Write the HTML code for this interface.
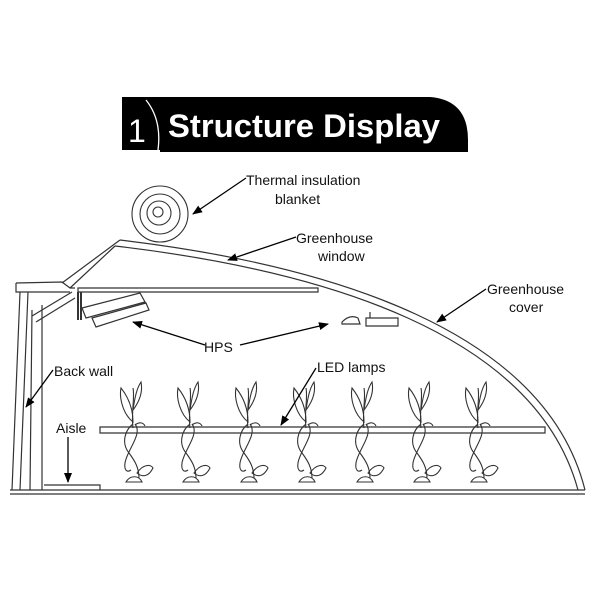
<!DOCTYPE html>
<html><head><meta charset="utf-8"><style>
body{margin:0;background:#fff}
svg{display:block}
text{font-family:"Liberation Sans",sans-serif}
</style></head><body>
<svg width="600" height="600" viewBox="0 0 600 600" xmlns="http://www.w3.org/2000/svg">
<defs>
<marker id="ar" markerWidth="10" markerHeight="8" refX="9" refY="4" orient="auto" markerUnits="userSpaceOnUse">
<path d="M0,0 L10,4 L0,8 Z" fill="#000"/></marker>
<g id="plant" fill="none" stroke="#333" stroke-width="1.1">
<path d="M0,0 C-2,-15 2,-30 0,-40"/>
<path d="M0,-6 C-10,-14 -14,-30 -12,-40 C-4,-30 0,-18 0,-6Z"/>
<path d="M0,-18 C2,-32 4,-40 8,-46 C10,-36 6,-26 0,-18Z"/>
<path d="M0,-4 C-8,2 -12,15 -4,25 C2,33 6,40 6,50"/>
<path d="M2,-4 C10,6 -6,22 -8,35 C-9,42 -6,45 -2,42"/>
<path d="M4,45 C10,36 18,36 20,40 C16,48 10,50 4,45Z"/>
<path d="M-7,54 C-3,47 6,47 9,54Z"/>
<path d="M2,-3 C6,-6 10,-6 12,-2" />
</g>
</defs>
<!-- title -->
<path d="M122,97 L430,97 Q468,100 468,140 L468,152 L160,152 L160,150 L122,150 Z" fill="#000"/>
<path d="M146,100 Q162,120 158,150" stroke="#fff" stroke-width="1.3" fill="none"/>
<text x="128" y="142" fill="#fff" font-size="32" font-family="Liberation Serif,serif">1</text>
<text x="168" y="137" fill="#fff" font-size="32" font-weight="bold" textLength="272" lengthAdjust="spacingAndGlyphs">Structure Display</text>
<!-- roll -->
<g fill="none" stroke="#333" stroke-width="1.1">
<circle cx="160" cy="214" r="28"/>
<circle cx="160" cy="214" r="20"/>
<circle cx="159" cy="213" r="12"/>
<circle cx="158" cy="212" r="5"/>
</g>
<!-- structure -->
<g fill="none" stroke="#333" stroke-width="1.2">
<path d="M120,240 C330,265 545,330 585,490"/>
<path d="M115,246 C320,270 535,332 578,490"/>
<path d="M62,283 L120,240 M70,288 L115,246"/>
<path d="M16,283 L62,282 L70,288 L75,288 M16,283 L16,292 L70,292"/>
<path d="M12,490 L20,292 M20,490 L28,292 M30,490 L32,310 M42,490 L42,305"/>
<path d="M32,316 L72,292 M36,322 L75,298"/>
<path d="M78,288 L318,288 L318,292 L78,292Z"/>
<path d="M78,292 L78,320 M81,292 L81,320" stroke-width="2"/>
<path d="M82,308 L140,293 L145,302 L86,318Z M92,318 L146,303 L149,310 L96,327Z"/>
<path d="M10,490 L585,490 M10,494 L585,494"/>
<path d="M44,485 L100,485 L100,490"/>
<path d="M100,427 L545,427 L545,433 L100,433 Z"/>
<path d="M342,322 Q350,314 358,318 L360,324 L342,324Z M366,318 L398,318 L398,326 L366,326Z M370,318 L370,312"/>
</g>
<g>
<use href="#plant" x="133" y="428"/>
<use href="#plant" x="190" y="428"/>
<use href="#plant" x="248" y="428"/>
<use href="#plant" x="306" y="428"/>
<use href="#plant" x="364" y="428"/>
<use href="#plant" x="421" y="428"/>
<use href="#plant" x="478" y="428"/>
</g>
<!-- arrows -->
<g stroke="#000" stroke-width="1.3" fill="none" marker-end="url(#ar)">
<path d="M246,178 L193,214"/>
<path d="M296,237 L228,260"/>
<path d="M486,289 L437,322"/>
<path d="M205,345 L133,322"/>
<path d="M240,345 L328,324"/>
<path d="M316,368 L281,425"/>
<path d="M53,370 L26,407"/>
<path d="M68,437 L68,482"/>
</g>
<g font-size="14" fill="#111">
<text x="246" y="185">Thermal insulation</text>
<text x="275" y="204">blanket</text>
<text x="296" y="243">Greenhouse</text>
<text x="318" y="261">window</text>
<text x="487" y="294">Greenhouse</text>
<text x="509" y="312">cover</text>
<text x="204" y="352">HPS</text>
<text x="317" y="372">LED lamps</text>
<text x="54" y="376">Back wall</text>
<text x="56" y="433">Aisle</text>
</g>
</svg>
</body></html>
